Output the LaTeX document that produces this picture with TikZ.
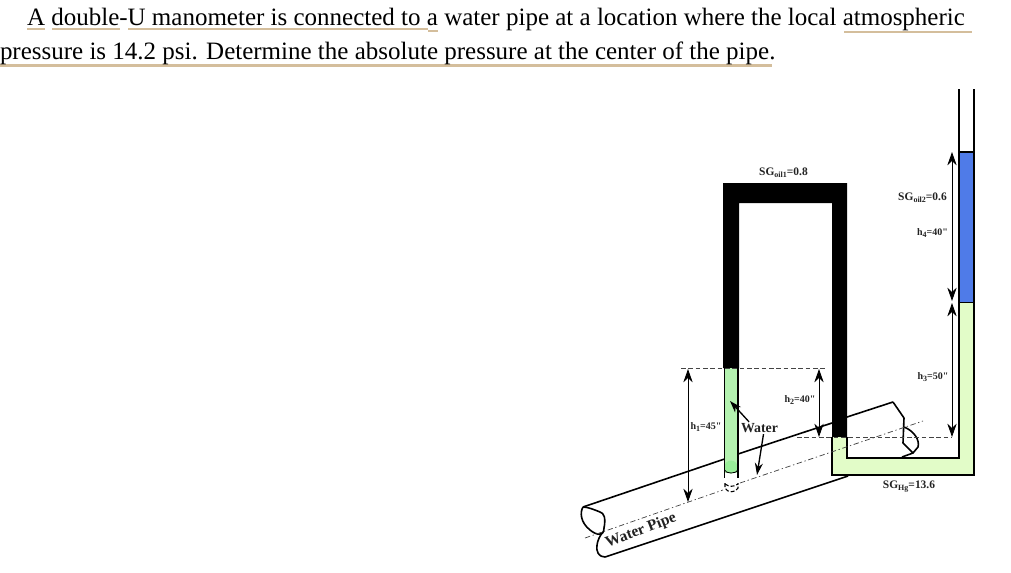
\documentclass[tikz,border=0pt]{standalone}
\usepackage{fontspec}
\setmainfont{Liberation Serif}
\newfontfamily\labfont{Liberation Serif}
\usetikzlibrary{arrows.meta}
\definecolor{tanline}{HTML}{D4BE9C}
\definecolor{waterg}{HTML}{B4F2B0}
\definecolor{waterb}{HTML}{98EE98}
\definecolor{hgg}{HTML}{E2FCC8}
\definecolor{oilb}{HTML}{4F7BE8}
\definecolor{inkgray}{HTML}{444444}
\definecolor{labink}{HTML}{222222}
\newcommand\sbs[1]{\raisebox{-.45ex}{\fontsize{6}{6}\selectfont #1}}
\tikzset{
  x=0.75pt,y=-0.75pt,
  every node/.style={inner sep=0pt,outer sep=0pt},
  titletext/.style={anchor=base west,font=\fontsize{18.75}{22}\selectfont,text=black},
  ul/.style={tanline,line width=2.1pt},
  smalllab/.style={font=\fontsize{8.6}{10}\labfont\bfseries,text=labink},
  hlab/.style={font=\fontsize{7.5}{9}\labfont\bfseries,text=labink},
  tube/.style={black,line width=1.2pt,line join=miter},
  pipeline/.style={black,line width=1.2pt},
  refdash/.style={inkgray,line width=.55pt,dash pattern=on 3.5pt off 2pt},
  center dash/.style={inkgray,line width=.55pt,dash pattern=on 4pt off 2pt on 1pt off 2pt},
  dimarrow/.style={black,line width=.7pt,{Stealth[length=10pt,width=7pt]}-{Stealth[length=10pt,width=7pt]}},
  callout/.style={black,line width=1pt,-{Stealth[length=9pt,width=6pt]}},
}
\begin{document}
\begin{tikzpicture}
\useasboundingbox (0,0) rectangle (1011,572);
% --- question text
\draw[ul] (27,29) -- (45,29);
\draw[ul] (52,29) -- (120,29);
\draw[ul] (128,29) -- (428,29);
\draw[ul] (428,31) -- (438,31);
\draw[ul] (844,32) -- (972,32);
\draw[ul] (0,65.5) -- (772,65.5);
\node[titletext] (line1) at (27,25.5) {A double-U manometer is connected to a water pipe at a location where the local atmospheric};
\node[titletext] (line2) at (0,59.5) {pressure is 14.2 psi. Determine the absolute pressure at the center of the pipe.};
% --- fills
\fill[black] (723,368) -- (723,183) -- (847,183) -- (847,437) -- (832,437) -- (832,203) -- (739,203) -- (739,368) -- cycle;
\fill[waterg] (724.5,368) rectangle (738,473);
\fill[waterb] (731,467) circle[radius=6.5];
\fill[hgg] (832,437) -- (847,437) -- (847,458) -- (959,458) -- (959,302) -- (974,302) -- (974,475) -- (832,475) -- cycle;
\fill[oilb] (958.5,152) rectangle (973.5,302);
% --- tube outlines
\draw[tube] (724.5,368) -- (724.5,478);
\draw[tube] (738,368) -- (738,478);
\draw[tube] (847,437) -- (847,458) -- (959,458) -- (959,89);
\draw[tube] (832,437) -- (832,475) -- (974,475) -- (974,89);
\draw[tube] (959,152) -- (974,152);
\draw[tube,line width=.6pt] (959,302) -- (974,302);
\draw[black,line width=.6pt] (724.5,470) .. controls (726,474) and (736,474) .. (738,470);
\draw[black,line width=.8pt,dash pattern=on 3pt off 1.5pt] (725,483) -- (725,488) .. controls (727,493) and (736,493) .. (738,488) -- (738,483);
\draw[black,line width=.8pt,dash pattern=on 3pt off 1.5pt] (725,484) .. controls (729,487) and (734,487) .. (738,484);
% --- pipe
\coordinate (pa) at (583,507);
\coordinate (pb) at (724.5,459);
\coordinate (pc) at (738,454);
\coordinate (pd) at (832,423);
\coordinate (pe) at (847,417);
\coordinate (pf) at (893,402);
\coordinate (pg) at (605,557);
\coordinate (ph) at (848,476);
\draw[pipeline] (pa) -- (pb);
\draw[pipeline] (pc) -- (pd);
\draw[pipeline] (pe) -- (pf);
\draw[pipeline] (pg) -- (ph);
\draw[pipeline,line join=round] (pf) -- (904,418) -- (903,443) -- (913,453) -- (902,457);
\draw[pipeline] (904,427) .. controls (914,431) and (920,440) .. (918,447) -- (913,453);
\draw[pipeline] (pa) .. controls (580,512) and (580,522) .. (590,530) .. controls (596,535) and (604,537) .. (604,528) .. controls (606,518) and (604,513) .. (600,512) .. controls (595,510) and (588,507) .. (pa);
\draw[pipeline] (603,532) .. controls (596,540) and (596,550) .. (598,553) .. controls (600,556) and (602,557) .. (pg);
% --- centre line and reference levels
\coordinate (ca) at (585,538);
\coordinate (cb) at (923,421);
\draw[center dash] (ca) -- (723,490);
\draw[center dash] (740,483) -- (cb);
\coordinate (r1a) at (681,368);
\coordinate (r1b) at (825,368);
\coordinate (r2a) at (797,437);
\coordinate (r2b) at (952,437);
\draw[refdash] (r1a) -- (r1b);
\draw[refdash] (r2a) -- (r2b);
% --- dimension arrows
\coordinate (h1a) at (688,369);
\coordinate (h1b) at (688,502);
\coordinate (h2a) at (819,369);
\coordinate (h2b) at (819,437);
\coordinate (h3a) at (952,303);
\coordinate (h3b) at (952,437);
\coordinate (h4a) at (952,152);
\coordinate (h4b) at (952,301);
\draw[dimarrow] (h1a) -- (h1b);
\draw[dimarrow] (h2a) -- (h2b);
\draw[dimarrow] (h3a) -- (h3b);
\draw[dimarrow] (h4a) -- (h4b);
% --- labels
\node[smalllab] (sg1) at (783.5,173) {SG\sbs{oil1}=0.8};
\node[smalllab] (sg2) at (922.5,197.5) {SG\sbs{oil2}=0.6};
\node[hlab] (lh4) at (932.5,233) {h\sbs{4}=40"};
\node[hlab] (lh3) at (933,377) {h\sbs{3}=50"};
\node[hlab] (lh2) at (800,400) {h\sbs{2}=40"};
\node[hlab] (lh1) at (706,427) {h\sbs{1}=45"};
\node[smalllab] (sghg) at (909,486.5) {SG\sbs{Hg}=13.6};
\node[font=\fontsize{10.4}{12}\selectfont\bfseries,text=labink] (water) at (759.5,428.5) {Water};
\node[font=\fontsize{11.6}{13}\selectfont\bfseries,text=labink,rotate=21] (pipelab) at (641,531) {Water Pipe};
\coordinate (w1) at (730,401);
\coordinate (w2) at (757,475);
\draw[callout] (water.north west) ++(8,-2) -- (w1);
\draw[callout] (water.south) ++(4,1) -- (w2);
\end{tikzpicture}
\end{document}
